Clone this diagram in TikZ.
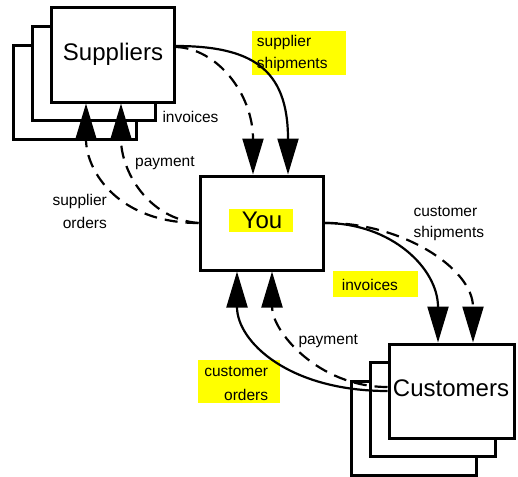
\documentclass[tikz,border=0pt]{standalone}
\usepackage{fontspec}
\setmainfont{Liberation Sans}
\usetikzlibrary{arrows.meta}
\definecolor{hlyellow}{RGB}{255,255,0}
\tikzset{
  box/.style={draw, line width=3pt, fill=white, minimum width=123pt, minimum height=94pt, inner sep=0pt},
  bigtext/.style={inner sep=0pt, font=\fontsize{24}{28}\selectfont},
  lbl/.style={inner sep=0pt, font=\fontsize{15.5}{20}\selectfont},
  hl/.style={fill=hlyellow, inner sep=0pt},
  flow/.style={line width=2.2pt, -{Triangle[length=36pt,width=21pt]}},
  dflow/.style={flow, dash pattern=on 13pt off 8pt},
}
\begin{document}
\begin{tikzpicture}[x=1pt,y=-1pt]
\useasboundingbox[fill=white] (0,0) rectangle (518,476);
% highlights
\node[hl, minimum width=94pt, minimum height=44pt] (hlship) at (299,53) {};
\node[hl, minimum width=85pt, minimum height=26pt] (hlinv) at (375.5,284) {};
\node[hl, minimum width=82pt, minimum height=43pt] (hlord) at (239,381.5) {};
% Suppliers stack
\node[box] (sup3) at (74.5,92.5) {};
\node[box] (sup2) at (93.5,73.5) {};
\node[box] (sup) at (112.5,55) {};
% You
\node[box] (you) at (261.5,223) {};
\node[hl, minimum width=64pt, minimum height=23pt] (hlyou) at (261,220.5) {};
% Customers stack
\node[box, minimum width=125pt] (cust3) at (413.5,428) {};
\node[box, minimum width=125pt] (cust2) at (432.5,409.5) {};
\node[box, minimum width=125pt] (cust) at (451.5,391) {};
% big texts
\node[bigtext, anchor=base] (tsup) at (113,60.7) {Suppliers};
\node[bigtext, anchor=base] (tyou) at (262,228.3) {You};
\node[bigtext, anchor=base] (tcust) at (451,396) {Customers};
% labels
\node[lbl, anchor=base west] (l1a) at (256.7,46.7) {supplier};
\node[lbl, anchor=base west] (l1b) at (256.7,68.3) {shipments};
\node[lbl, anchor=base west] (l2) at (162.3,122.3) {invoices};
\node[lbl, anchor=base west] (l3) at (135,166.7) {payment};
\node[lbl, anchor=base east] (l4a) at (107,205) {supplier};
\node[lbl, anchor=base east] (l4b) at (107,228) {orders};
\node[lbl, anchor=base west] (l5a) at (413.3,216) {customer};
\node[lbl, anchor=base west] (l5b) at (413.3,237.3) {shipments};
\node[lbl, anchor=base west] (l6) at (341.7,290) {invoices};
\node[lbl, anchor=base west] (l7) at (298.3,344) {payment};
\node[lbl, anchor=base east] (l8a) at (268.3,376.7) {customer};
\node[lbl, anchor=base east] (l8b) at (268.3,400.7) {orders};
% connectors: suppliers -> you
\draw[flow] ([yshift=9pt]sup.east) .. controls +(76,0) and +(0,-106) .. ([xshift=26.5pt]you.north);
\draw[dflow] ([yshift=8pt]sup.east) .. controls +(41,1) and +(0,-81) .. ([xshift=-8.5pt]you.north);
% you -> suppliers
\draw[dflow] (you.west) .. controls +(-80,0) and +(0,68) .. ([xshift=-26.5pt]sup.south);
\draw[dflow] (you.west) .. controls +(-50,-4) and +(0,68) .. ([xshift=8.5pt]sup.south);
% you -> customers
\draw[flow] (you.east) .. controls +(67,0) and +(0,-74) .. ([xshift=-13.5pt]cust.north);
\draw[dflow] (you.east) .. controls +(77,-1) and +(0,-74) .. ([xshift=21.5pt]cust.north);
% customers -> you
\draw[flow] (cust.west) .. controls +(-99,0) and +(0,70) .. ([xshift=-24.5pt]you.south);
\draw[dflow] ([yshift=4pt]cust.west) .. controls +(-69,0) and +(0,60) .. ([xshift=10.5pt]you.south);
\end{tikzpicture}
\end{document}
